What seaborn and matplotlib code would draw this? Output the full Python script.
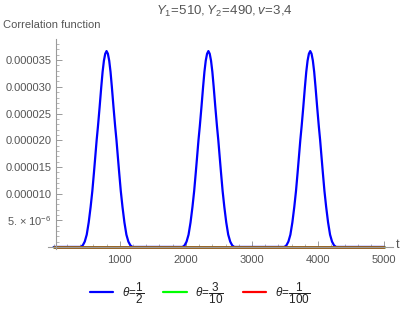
import matplotlib
matplotlib.use("Agg")
import matplotlib.pyplot as plt
import seaborn as sns
from matplotlib.lines import Line2D
from matplotlib.ticker import FixedLocator, MultipleLocator

# blue curve (theta = 1/2), values in units of 1e-6
blue_t = [0,
          409, 440, 470, 500, 530, 559, 585, 609, 630, 650, 670, 695, 720, 740, 760, 780, 800,
          820, 840, 860, 880, 905, 930, 950, 970, 991, 1015, 1041, 1070, 1100, 1130, 1160, 1191,
          1949, 1980, 2010, 2040, 2070, 2099, 2125, 2149, 2170, 2190, 2210, 2235, 2260, 2280, 2300, 2320, 2340,
          2360, 2380, 2400, 2420, 2445, 2470, 2490, 2510, 2531, 2555, 2581, 2610, 2640, 2670, 2700, 2731,
          3489, 3520, 3550, 3580, 3610, 3639, 3665, 3689, 3710, 3730, 3750, 3775, 3800, 3820, 3840, 3860, 3880,
          3900, 3920, 3940, 3960, 3985, 4010, 4030, 4050, 4071, 4095, 4121, 4150, 4180, 4210, 4240, 4271,
          5000]
peak_vals = [0, 0.3, 1.0, 2.3, 4.6, 7.5, 10.5, 13.9, 17.0, 20.0, 22.6, 26.2, 30.0, 32.8, 34.9, 36.2, 36.7,
             36.2, 34.9, 32.8, 30.0, 26.2, 22.6, 20.0, 17.0, 13.9, 10.5, 7.5, 4.6, 2.3, 1.0, 0.3, 0]
blue_y = [0] + peak_vals + peak_vals + peak_vals + [0]

# green (theta = 3/10) and red (theta = 1/100) stay at zero on this scale
green_t = [0, 5000]
green_y = [0, 0]
red_t = [0, 5000]
red_y = [0, 0]

series_labels = [r"$\theta\!=\!\dfrac{1}{2}$", r"$\theta\!=\!\dfrac{3}{10}$", r"$\theta\!=\!\dfrac{1}{100}$"]
series_colors = ['#0000ff', '#00ff00', '#ff0000']

ytick_vals = [5, 10, 15, 20, 25, 30, 35]
ytick_labels = [r"$5.\times10^{-6}$", "0.000010", "0.000015", "0.000020",
                "0.000025", "0.000030", "0.000035"]
xtick_vals = [1000, 2000, 3000, 4000, 5000]

sns.set_style("white")
plt.rcParams['font.family'] = ['Liberation Sans', 'DejaVu Sans']
plt.rcParams['mathtext.fontset'] = 'custom'
plt.rcParams['mathtext.rm'] = 'Liberation Sans'
plt.rcParams['mathtext.it'] = 'Liberation Sans:italic'
plt.rcParams['mathtext.bf'] = 'Liberation Sans:bold'

grey = '#555555'
axis_grey = '#9a9a9a'

fig = plt.figure(figsize=(4.06, 3.10), dpi=100)
ax = fig.add_axes([0.118, 0.197, 0.850, 0.677])

sns.lineplot(x=blue_t, y=blue_y, color=series_colors[0], lw=1.6, ax=ax, clip_on=False)
sns.lineplot(x=green_t, y=green_y, color=series_colors[1], lw=1.9, ax=ax, clip_on=False)
# red drawn over green, slightly transparent, gives the brownish line of the original
sns.lineplot(x=red_t, y=red_y, color='#c03020', lw=1.9, alpha=0.9, ax=ax, clip_on=False)

ax.set_xlim(-87, 5132)
ax.set_ylim(-0.37, 38.95)

for s in ['top', 'right']:
    ax.spines[s].set_visible(False)
ax.spines['left'].set_position(('data', 35))
ax.spines['bottom'].set_position(('data', 0))
for s in ['left', 'bottom']:
    ax.spines[s].set_color(axis_grey)
    ax.spines[s].set_linewidth(0.8)

ax.yaxis.set_major_locator(FixedLocator(ytick_vals))
ax.set_yticklabels(ytick_labels)
ax.yaxis.set_minor_locator(MultipleLocator(1))
ax.xaxis.set_major_locator(FixedLocator(xtick_vals))
ax.set_xticklabels([str(v) for v in xtick_vals])
ax.xaxis.set_minor_locator(MultipleLocator(200))
ax.tick_params(which='both', bottom=True, left=True)
ax.tick_params(which='major', direction='in', length=4, width=0.7, color=axis_grey,
               labelcolor=grey, labelsize=8, pad=3)
ax.tick_params(which='minor', direction='in', length=2, width=0.5, color=axis_grey)
ax.tick_params(axis='x', pad=6)

fig.text(224 / 406, 1 - 11 / 310, r"$Y_1\!=\!510,Y_2\!=\!490,v\!=\!3{,}4$",
         ha='center', va='center', fontsize=9.5, color=grey)
fig.text(3 / 406, 1 - 25 / 310, "Correlation function", ha='left', va='center',
         fontsize=8, color=grey)
fig.text(398 / 406, 1 - 245 / 310, "t", ha='center', va='center', fontsize=9, color=grey)

handles = [Line2D([], [], color=c, lw=1.6) for c in series_colors]
fig.legend(handles, series_labels, loc='center', bbox_to_anchor=(200 / 406, 1 - 293 / 310),
           ncol=3, frameon=False, fontsize=8.5, handlelength=2.0, columnspacing=1.6,
           handletextpad=0.7, labelcolor='#222222')

fig.savefig('out.png', dpi=100)
